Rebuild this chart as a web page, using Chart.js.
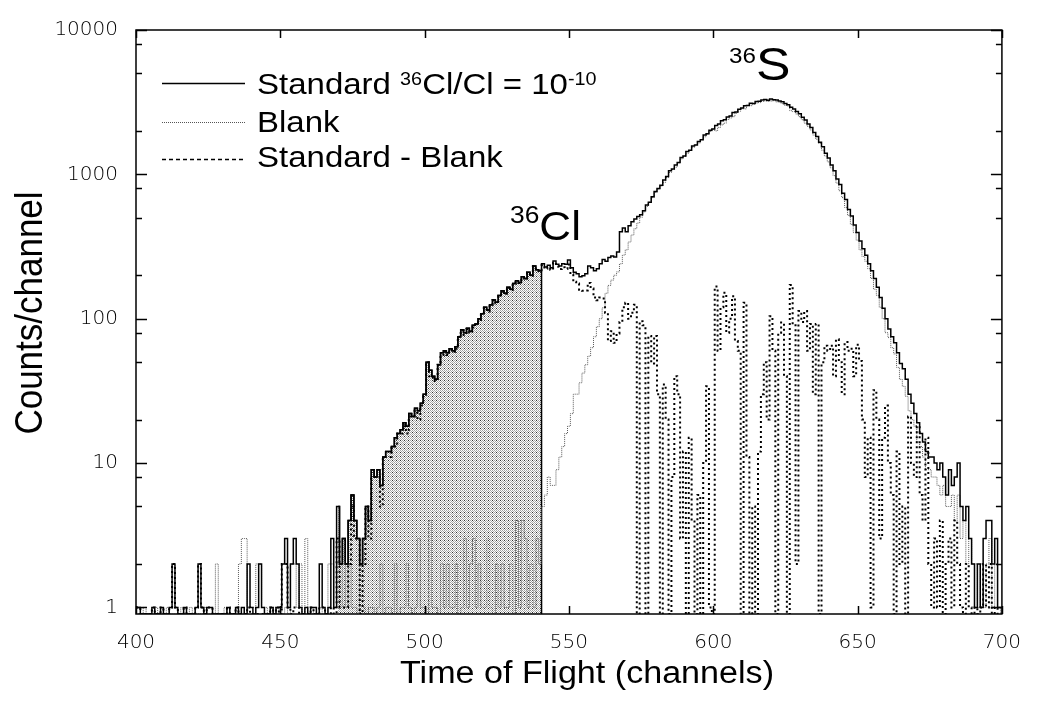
<!DOCTYPE html>
<html>
<head>
<meta charset="utf-8">
<title>36Cl time of flight spectrum</title>
<script src="https://cdn.jsdelivr.net/npm/chart.js@4.4.0/dist/chart.umd.min.js"></script>
<style>
  html, body { margin: 0; padding: 0; background: #fff; }
  #wrap { width: 1038px; height: 702px; }
</style>
</head>
<body>
<div id="wrap"><canvas id="tofChart" width="1038" height="702"></canvas></div>
<script>
// Channel numbers run from firstChannel, one count per channel
const firstChannel = 400;

// Standard 36Cl/Cl = 1e-10 (counts per channel, 400..700)
const standardCounts = [
  1, 1, 0, 0, 0, 0, 1, 0, 0, 1,
  0, 0, 1, 2, 1, 0, 0, 1, 0, 0,
  0, 1, 2, 1, 0, 1, 1, 0, 0, 0,
  0, 0, 1, 0, 0, 1, 0, 1, 0, 2,
  1, 0, 1, 2, 1, 0, 0, 1, 0, 1,
  1, 2, 3, 1, 2, 3, 2, 1, 0, 1,
  0, 1, 1, 0, 2, 1, 0, 1, 3, 1,
  5, 2, 3, 2, 4, 6, 4, 3, 2, 3,
  5, 4, 9, 8, 9, 7, 11, 12, 12, 13,
  15, 16, 17, 19, 18, 22, 21, 24, 23, 26,
  30, 50, 44, 40, 38, 48, 58, 60, 58, 62,
  60, 64, 75, 84, 80, 86, 82, 90, 92, 100,
  108, 120, 115, 125, 135, 130, 145, 156, 150, 165,
  160, 175, 183, 178, 195, 190, 210, 200, 232, 218,
  215, 240, 228, 235, 225, 251, 238, 232, 240, 238,
  255, 225, 210, 205, 195, 198, 205, 232, 225, 215,
  222, 240, 257, 250, 265, 272, 268, 290, 400, 425,
  400, 440, 470, 490, 510, 524, 560, 613, 640, 700,
  760, 798, 840, 915, 965, 1060, 1090, 1160, 1210, 1310,
  1340, 1440, 1470, 1570, 1600, 1690, 1740, 1870, 1910, 2020,
  2060, 2180, 2230, 2350, 2390, 2500, 2540, 2680, 2700, 2830,
  2880, 2990, 3000, 3110, 3100, 3200, 3210, 3270, 3300, 3260,
  3320, 3290, 3280, 3220, 3190, 3090, 3030, 2920, 2840, 2720,
  2630, 2490, 2380, 2230, 2110, 1950, 1830, 1670, 1550, 1400,
  1300, 1160, 1060, 930, 850, 740, 670, 570, 515, 445,
  395, 345, 305, 275, 240, 215, 190, 165, 140, 118,
  100, 85, 75, 68, 58, 49, 45, 38, 30, 26,
  22, 19, 16, 14, 12, 11, 11, 10, 9, 10,
  8, 6, 9, 7, 8, 10, 5, 4, 5, 3,
  2, 1, 2, 1, 3, 4, 4, 2, 3, 1,
  1
];

// Blank
const blankCounts = [
  0, 0, 0, 1, 0, 0, 0, 1, 0, 0,
  0, 1, 0, 0, 0, 0, 1, 0, 0, 1,
  0, 0, 0, 0, 1, 0, 0, 0, 2, 0,
  0, 1, 0, 0, 0, 0, 2, 3, 3, 1,
  1, 1, 2, 2, 1, 1, 0, 0, 1, 0,
  1, 0, 1, 0, 2, 2, 1, 2, 0, 3,
  0, 0, 1, 0, 1, 0, 0, 2, 2, 1,
  2, 1, 2, 1, 2, 1, 1, 0, 2, 1,
  0, 1, 1, 0, 1, 2, 0, 1, 1, 0,
  2, 0, 1, 1, 2, 1, 0, 1, 3, 1,
  1, 0, 4, 1, 1, 0, 2, 1, 2, 1,
  1, 2, 0, 1, 3, 1, 2, 3, 1, 2,
  1, 1, 3, 1, 0, 2, 1, 2, 1, 1,
  2, 0, 4, 1, 4, 3, 1, 2, 1, 3,
  2, 5, 6, 8, 7, 7, 9, 11, 13, 16,
  18, 22, 30, 30, 36, 42, 48, 55, 63, 75,
  88, 100, 119, 150, 170, 185, 200, 211, 240, 276,
  300, 340, 380, 420, 460, 505, 550, 600, 640, 690,
  750, 790, 830, 880, 950, 1030, 1080, 1120, 1200, 1280,
  1330, 1400, 1465, 1540, 1600, 1650, 1740, 1820, 1900, 1980,
  2060, 2000, 2110, 2200, 2260, 2400, 2460, 2510, 2650, 2740,
  2850, 2840, 3010, 2990, 3060, 3120, 3140, 3200, 3230, 3200,
  3220, 3240, 3180, 3160, 3090, 3010, 2970, 2760, 2720, 2620,
  2510, 2390, 2260, 2150, 2030, 1870, 1750, 1640, 1470, 1340,
  1220, 1110, 980, 870, 770, 690, 590, 520, 450, 395,
  350, 300, 270, 250, 222, 190, 160, 145, 120, 100,
  80, 74, 63, 57, 46, 38, 34, 29, 23, 20,
  18, 14, 13, 11, 9, 9, 8, 8, 7, 6,
  7, 5, 5, 6, 4, 6, 3, 4, 2, 3,
  2, 2, 1, 2, 1, 2, 3, 1, 2, 1,
  0
];

// Standard - Blank
const diffCounts = [
  1, 1, 0, 0, 0, 0, 1, 0, 0, 1,
  0, 0, 1, 2, 1, 0, 0, 1, 0, 0,
  0, 1, 2, 1, 0, 1, 1, 0, 0, 0,
  0, 0, 1, 0, 0, 1, 0, 0, 0, 1,
  0, 0, 0, 0, 0, 0, 0, 1, 0, 1,
  0, 2, 2, 1, 0, 1, 1, 0, 0, 0,
  0, 1, 0, 0, 1, 1, 0, 0, 1, 0,
  3, 1, 1, 1, 2, 5, 3, 3, 0, 2,
  5, 3, 8, 8, 8, 5, 11, 11, 11, 13,
  13, 16, 16, 18, 16, 21, 21, 23, 20, 25,
  29, 50, 40, 39, 37, 48, 56, 59, 56, 61,
  59, 62, 75, 83, 77, 85, 80, 87, 91, 98,
  107, 119, 112, 124, 135, 128, 144, 154, 149, 164,
  158, 175, 179, 177, 191, 187, 209, 198, 231, 215,
  213, 235, 222, 227, 218, 244, 229, 221, 227, 222,
  237, 203, 180, 175, 159, 156, 157, 177, 162, 140,
  134, 140, 138, 110, 70, 82, 68, 79, 95, 120,
  129, 100, 110, 125, 0, 96, 90, 0, 76, 49,
  76, 30, 0, 35, 20, 0, 8, 40, 30, 3,
  12, 0, 15, 4, 0, 6, 0, 10, 34, 1,
  0, 167, 60, 120, 151, 80, 100, 143, 70, 60,
  0, 129, 11, 0, 5, 0, 12, 30, 50, 20,
  104, 60, 0, 80, 94, 40, 0, 171, 90, 2,
  113, 95, 113, 60, 92, 30, 92, 0, 50, 65,
  60, 65, 40, 72, 50, 30, 69, 60, 62, 40,
  66, 51, 20, 8, 15, 1, 32, 20, 3, 15,
  25, 10, 6, 0, 12, 2, 5, 0, 21, 10,
  8, 18, 6, 4, 15, 2, 1, 3, 1, 4,
  0, 2, 3, 1, 4, 2, 1, 0, 2, 1,
  0, 1, 0, 1, 2, 1, 2, 0, 1, 0,
  0
];

// Axis ticks
const xTicks = [400, 450, 500, 550, 600, 650, 700];
const yTicks = [1, 2, 5, 8, 10, 20, 50, 80, 100, 200, 500, 800, 1000, 2000, 5000, 8000, 10000];
const yLabelled = [1, 10, 100, 1000, 10000];
const yFloor = 0.9;          // bottom of the log axis, zero counts sit here

// 36Cl integration window (shaded)
const windowStart = 470;
const windowEnd = 540;

// Legend entries (superscripts kept as separate parts)
const legendRows = [
  { style: 'solid', parts: [['Standard ', 0], ['36', 1], ['Cl/Cl = 10', 0], ['-10', 1]] },
  { style: 'dotted', parts: [['Blank', 0]] },
  { style: 'dashed', parts: [['Standard - Blank', 0]] }
];

const FONT = '"Liberation Sans", Arial, Helvetica, sans-serif';
const STRETCH = 1.1;   // the original lettering is a little wide

function toPoints(counts) {
  return counts.map((c, i) => ({ x: firstChannel + i, y: c > 0 ? c : yFloor }));
}

// Stippled grey fill like the original halftone
function makeStipple() {
  const c = document.createElement('canvas');
  c.width = 4;
  c.height = 4;
  const g = c.getContext('2d');
  g.fillStyle = '#ffffff';
  g.fillRect(0, 0, 4, 4);
  g.fillStyle = '#a4a4a4';
  for (let i = 0; i < 4; i++) {
    for (let j = 0; j < 4; j++) {
      if ((i + j) % 2 === 0) g.fillRect(i, j, 1, 1);
    }
  }
  g.fillStyle = '#303030';
  g.fillRect(0, 0, 1, 1);
  return g.createPattern(c, 'repeat');
}

const shadePoints = toPoints(standardCounts).filter((p) => p.x >= windowStart && p.x <= windowEnd);
const shadeTop = shadePoints[shadePoints.length - 1].y;
shadePoints.push({ x: windowEnd + 0.5, y: shadeTop }, { x: windowEnd + 0.5, y: yFloor });

// text with superscript parts, stretched horizontally
function drawRich(ctx, x, y, parts, size, supSize, raise) {
  ctx.save();
  ctx.translate(x, y);
  ctx.scale(STRETCH, 1);
  let cx = 0;
  parts.forEach(([text, sup]) => {
    ctx.font = `${sup ? supSize : size}px ${FONT}`;
    ctx.fillText(text, cx, sup ? -raise : 0);
    cx += ctx.measureText(text).width;
  });
  ctx.restore();
}

function strokeLine(ctx, x1, y1, x2, y2) {
  ctx.beginPath();
  ctx.moveTo(x1, y1);
  ctx.lineTo(x2, y2);
  ctx.stroke();
}

// Frame, inward ticks, legend, labels and axis titles
const decorPlugin = {
  id: 'decor',
  afterDraw(chart) {
    const { ctx, chartArea: a, scales: { x, y } } = chart;
    ctx.save();
    ctx.strokeStyle = '#000';
    ctx.fillStyle = '#000';
    ctx.setLineDash([]);
    ctx.lineWidth = 1.5;
    ctx.strokeRect(a.left, a.top, a.right - a.left, a.bottom - a.top);

    y.ticks.forEach((t) => {
      const py = Math.round(y.getPixelForValue(t.value)) + 0.5;
      const len = yLabelled.includes(t.value) ? 11 : 6;
      strokeLine(ctx, a.left, py, a.left + len, py);
      strokeLine(ctx, a.right, py, a.right - len, py);
    });
    x.ticks.forEach((t) => {
      const px = Math.round(x.getPixelForValue(t.value)) + 0.5;
      strokeLine(ctx, px, a.bottom, px, a.bottom - 8);
      strokeLine(ctx, px, a.top, px, a.top + 8);
    });

    // legend
    legendRows.forEach((row, i) => {
      const ly = [83.5, 122.5, 159.5][i];
      const base = [93.5, 132, 167][i];
      if (row.style === 'solid') {
        ctx.setLineDash([]);
        ctx.lineWidth = 1.5;
        ctx.strokeStyle = '#000';
      } else if (row.style === 'dotted') {
        ctx.setLineDash([1, 1]);
        ctx.lineWidth = 1;
        ctx.strokeStyle = '#555';
      } else {
        ctx.setLineDash([4, 3]);
        ctx.lineWidth = 1.5;
        ctx.strokeStyle = '#000';
      }
      strokeLine(ctx, 162, ly, 245, ly);
      ctx.setLineDash([]);
      ctx.textAlign = 'left';
      ctx.textBaseline = 'alphabetic';
      drawRich(ctx, 257, base, row.parts, 30, 18, 9);
    });

    // peak labels
    drawRich(ctx, 510, 240, [['36', 1], ['Cl', 0]], 40, 24, 17);
    drawRich(ctx, 729, 80, [['36', 1], ['S', 0]], 47, 22, 17);

    // axis titles
    ctx.textAlign = 'center';
    ctx.textBaseline = 'alphabetic';
    ctx.save();
    ctx.translate(587, 683);
    ctx.scale(STRETCH, 1);
    ctx.font = `31px ${FONT}`;
    ctx.fillText('Time of Flight (channels)', 0, 0);
    ctx.restore();

    ctx.save();
    ctx.translate(42, 313);
    ctx.rotate(-Math.PI / 2);
    ctx.scale(1, STRETCH);
    ctx.font = `35px ${FONT}`;
    ctx.fillText('Counts/channel', 0, 0);
    ctx.restore();

    ctx.restore();
  }
};

const tickFont = { family: '"DejaVu Sans", Verdana, sans-serif', size: 20, weight: 200 };

new Chart(document.getElementById('tofChart'), {
  type: 'line',
  data: {
    datasets: [
      {
        label: 'window',
        data: shadePoints,
        stepped: 'middle',
        fill: 'start',
        backgroundColor: makeStipple(),
        borderColor: '#000',
        borderWidth: 1.5,
        order: 4
      },
      {
        label: 'Blank',
        data: toPoints(blankCounts),
        stepped: 'middle',
        fill: false,
        borderColor: '#5a5a5a',
        borderWidth: 1,
        borderDash: [1, 1],
        order: 3
      },
      {
        label: 'Standard - Blank',
        data: toPoints(diffCounts),
        stepped: 'middle',
        fill: false,
        borderColor: '#000',
        borderWidth: 2,
        borderDash: [2, 3],
        order: 2
      },
      {
        label: 'Standard',
        data: toPoints(standardCounts),
        stepped: 'middle',
        fill: false,
        borderColor: '#000',
        borderWidth: 1.5,
        order: 1
      }
    ]
  },
  options: {
    responsive: false,
    animation: false,
    devicePixelRatio: 1,
    layout: { padding: { left: 0, right: 27, top: 22, bottom: 0 } },
    elements: { point: { radius: 0 }, line: { tension: 0 } },
    plugins: { legend: { display: false }, tooltip: { enabled: false } },
    scales: {
      x: {
        type: 'linear',
        min: 400,
        max: 700,
        afterBuildTicks: (scale) => { scale.ticks = xTicks.map((v) => ({ value: v })); },
        afterFit: (scale) => { scale.height = 88; },
        grid: { display: false, drawTicks: false },
        border: { display: false },
        ticks: { padding: 17, color: '#000', font: tickFont, maxRotation: 0, autoSkip: false }
      },
      y: {
        type: 'logarithmic',
        min: yFloor,
        max: 10000,
        afterBuildTicks: (scale) => { scale.ticks = yTicks.map((v) => ({ value: v })); },
        afterFit: (scale) => { scale.width = 136; },
        grid: { display: false, drawTicks: false },
        border: { display: false },
        ticks: {
          padding: 18,
          color: '#000',
          font: tickFont,
          autoSkip: false,
          callback: (v) => (yLabelled.includes(v) ? String(v) : '')
        }
      }
    }
  },
  plugins: [decorPlugin]
});
</script>
</body>
</html>
